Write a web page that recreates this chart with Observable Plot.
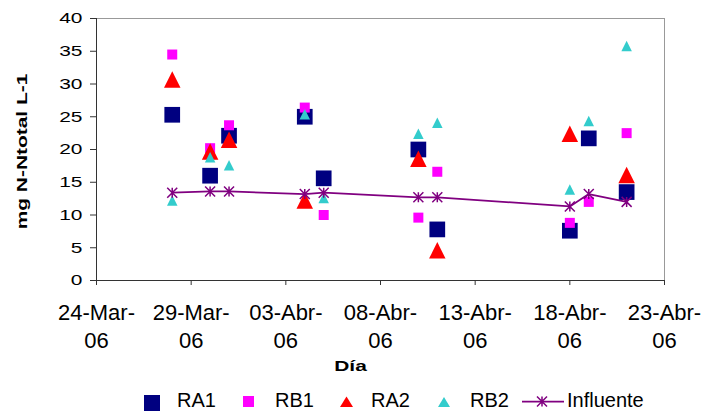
<!DOCTYPE html>
<html>
<head>
<meta charset="utf-8">
<script src="https://cdn.jsdelivr.net/npm/d3@7"></script>
<script src="https://cdn.jsdelivr.net/npm/@observablehq/plot@0.6"></script>
<style>
  body { margin: 0; background: #fff; }
  #chart, #legend { width: 715px; }
  #chart svg, #legend svg { display: block; }
</style>
</head>
<body>
<div id="chart"></div>
<div id="legend"></div>
<script>
// Sampling days and measured total nitrogen (mg N-Ntotal L-1) per reactor
const fechas = ["2006-03-28", "2006-03-30", "2006-03-31", "2006-04-04", "2006-04-05",
                "2006-04-10", "2006-04-11", "2006-04-18", "2006-04-19", "2006-04-21"];
const RA1 = [25.3, 16.0, 22.1, 25.0, 15.6, 20.0, 7.8, 7.6, 21.7, 13.5];
const RB1 = [34.5, 20.2, 23.7, 26.4, 10.0, 9.6, 16.6, 8.8, 12.0, 22.5];
const RA2 = [30.7, 19.7, 21.5, 12.2, null, 18.6, 4.6, 22.4, null, 16.1];
const RB2 = [12.2, 18.8, 17.6, 25.4, 12.6, 22.4, 24.1, 13.9, 24.35, 35.8];
const Influente = [13.4, 13.6, 13.6, 13.2, 13.4, 12.7, 12.7, 11.3, 13.2, 12.0];

const series = ["RA1", "RB1", "RA2", "RB2", "Influente"];
const colores = ["#000080", "#FF00FF", "#FF0000", "#33CCCC", "#800080"];

const yTicks = [0, 5, 10, 15, 20, 25, 30, 35, 40];
const xDominio = ["2006-03-24", "2006-04-23"];
const xTickLabels = ["24-Mar-06", "29-Mar-06", "03-Abr-06", "08-Abr-06", "13-Abr-06", "18-Abr-06", "23-Abr-06"];
const yTitulo = "mg N-Ntotal L-1";
const xTitulo = "Día";

const FONT = "'Liberation Sans', Arial, Helvetica, sans-serif";

// Long-format rows for one series, skipping days without a measurement
const filas = (valores) => fechas
  .map((f, i) => ({fecha: new Date(f), valor: valores[i]}))
  .filter((d) => d.valor != null);

// Marker shapes
const triangulo = {
  draw(ctx, size) {
    const a = Math.sqrt(2 * size);
    ctx.moveTo(0, -a / 2);
    ctx.lineTo(a / 2, a / 2);
    ctx.lineTo(-a / 2, a / 2);
    ctx.closePath();
  }
};
const asterisco = {
  draw(ctx, size) {
    const h = Math.sqrt(size) / 2;
    ctx.moveTo(0, -h); ctx.lineTo(0, h);
    ctx.moveTo(-h, -h); ctx.lineTo(h, h);
    ctx.moveTo(-h, h); ctx.lineTo(h, -h);
  }
};
const rCuadrado = (lado) => lado / Math.sqrt(Math.PI);
const rTriangulo = (lado) => Math.sqrt(lado * lado / 2 / Math.PI);

const d0 = new Date(xDominio[0]);
const d1 = new Date(xDominio[1]);
const xTicks = d3.utcDay.range(d0, d3.utcDay.offset(d1, 1), 5);
const etiqueta = new Map(xTicks.map((d, i) => [+d, xTickLabels[i]]));
const formatoX = (d) => etiqueta.get(+d).replace(/-(\d+)$/, "-\n$1");

const chart = Plot.plot({
  width: 715,
  height: 388,
  marginTop: 18,
  marginRight: 51,
  marginBottom: 108,
  marginLeft: 96,
  style: {fontFamily: FONT, fontSize: "16px", color: "#000", background: "#fff", overflow: "visible"},
  x: {type: "utc", domain: [d0, d1]},
  y: {domain: [0, 40]},
  marks: [
    Plot.frame({stroke: "#999999"}),
    Plot.ruleY([0], {stroke: "#333333"}),
    Plot.ruleX([d0], {stroke: "#333333"}),
    Plot.axisY({ticks: yTicks, tickSize: 6, tickPadding: 8, fontSize: 15.5, label: null,
                stroke: "#333333", fill: "#000"}),
    Plot.axisX({ticks: xTicks, tickFormat: formatoX, tickSize: 5, tickPadding: 15, fontSize: 22,
                lineHeight: 1.27, label: null, stroke: "#333333", fill: "#000"}),
    Plot.text([yTitulo], {frameAnchor: "left", textAnchor: "middle", rotate: -90, dx: -74, dy: 2,
                          fontSize: 15.5, fontWeight: "bold", fill: "#000"}),
    Plot.text([xTitulo], {frameAnchor: "bottom", textAnchor: "middle", dx: -30, dy: 90, lineAnchor: "bottom",
                          fontSize: 15.5, fontWeight: "bold", fill: "#000"}),
    Plot.dot(filas(RA1), {x: "fecha", y: "valor", symbol: "square", r: rCuadrado(15.7), fill: colores[0]}),
    Plot.dot(filas(RB1), {x: "fecha", y: "valor", symbol: "square", r: rCuadrado(10), fill: colores[1]}),
    Plot.dot(filas(RA2), {x: "fecha", y: "valor", symbol: triangulo, r: rTriangulo(16.5), fill: colores[2]}),
    Plot.dot(filas(RB2), {x: "fecha", y: "valor", symbol: triangulo, r: rTriangulo(10.5), fill: colores[3]}),
    Plot.line(filas(Influente), {x: "fecha", y: "valor", stroke: colores[4], strokeWidth: 1.75}),
    Plot.dot(filas(Influente), {x: "fecha", y: "valor", symbol: asterisco, r: rCuadrado(10),
                                stroke: colores[4], strokeWidth: 1.5, fill: "none"})
  ]
});

// The small axis texts are set wide: stretch them horizontally around their anchor
function estirar(t, sx) {
  const tr = t.getAttribute("transform");
  if (tr) {
    t.setAttribute("transform", `${tr} scale(${sx},1)`);
  } else {
    const x = +t.getAttribute("x") || 0, y = +t.getAttribute("y") || 0;
    t.setAttribute("transform", `translate(${x},${y}) scale(${sx},1) translate(${-x},${-y})`);
  }
}
for (const t of chart.querySelectorAll("text")) {
  const s = t.textContent;
  if (/^\d+$/.test(s) || s === yTitulo || s === xTitulo) estirar(t, 1.35);
}
document.getElementById("chart").append(chart);

// Legend row below the chart
const leg = d3.create("svg")
  .attr("width", 715).attr("height", 23)
  .style("font-family", FONT).style("font-size", "20px");
const items = [
  {sx: 144, tx: 177},
  {sx: 243, tx: 275},
  {sx: 340, tx: 371},
  {sx: 438, tx: 470},
  {sx: 522, tx: 567}
];
series.forEach((nombre, i) => {
  const {sx, tx} = items[i];
  const g = leg.append("g");
  if (i === 0) g.append("rect").attr("x", sx).attr("y", 7).attr("width", 16).attr("height", 16).attr("fill", colores[i]);
  if (i === 1) g.append("rect").attr("x", sx).attr("y", 8).attr("width", 11).attr("height", 11).attr("fill", colores[i]);
  if (i === 2) g.append("path").attr("d", `M${sx + 6.5},8.5L${sx + 13},19L${sx},19Z`).attr("fill", colores[i]);
  if (i === 3) g.append("path").attr("d", `M${sx + 6},9L${sx + 12},19L${sx},19Z`).attr("fill", colores[i]);
  if (i === 4) {
    g.append("line").attr("x1", sx).attr("x2", sx + 42).attr("y1", 13.5).attr("y2", 13.5)
      .attr("stroke", colores[i]).attr("stroke-width", 1.75);
    const cx = sx + 20, cy = 13.5, h = 5;
    g.append("path").attr("d", `M${cx},${cy - h}V${cy + h}M${cx - h},${cy - h}L${cx + h},${cy + h}M${cx - h},${cy + h}L${cx + h},${cy - h}`)
      .attr("stroke", colores[i]).attr("stroke-width", 1.5).attr("fill", "none");
  }
  g.append("text").attr("x", tx).attr("y", 19).attr("fill", "#000").text(nombre);
});
document.getElementById("legend").append(leg.node());
</script>
</body>
</html>
